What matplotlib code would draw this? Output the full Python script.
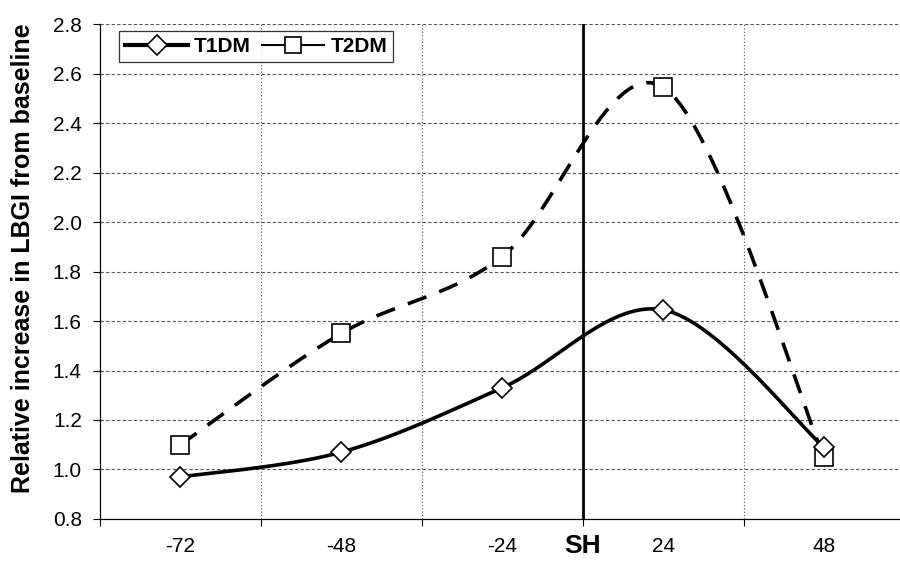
import numpy as np
import matplotlib
matplotlib.use("Agg")
from matplotlib import pyplot as plt
from matplotlib.lines import Line2D

plt.rcParams['font.family'] = ['Liberation Sans', 'DejaVu Sans']

# hours relative to severe hypoglycaemia (SH)
hours = ['-72', '-48', '-24', '24', '48']
t1dm = [0.97, 1.07, 1.33, 1.645, 1.09]
t2dm = [1.10, 1.55, 1.86, 2.545, 1.05]
y_ticks = [0.8, 1.0, 1.2, 1.4, 1.6, 1.8, 2.0, 2.2, 2.4, 2.6, 2.8]


def smooth(xs, ys, n=40):
    # excel-like smoothed line: bezier with catmull-rom control points
    pts = np.column_stack([xs, ys]).astype(float)
    out = []
    for i in range(len(pts) - 1):
        p0 = pts[i - 1] if i > 0 else pts[i]
        p1 = pts[i]
        p2 = pts[i + 1]
        p3 = pts[i + 2] if i + 2 < len(pts) else pts[i + 1]
        c1 = p1 + (p2 - p0) / 6.0
        c2 = p2 - (p3 - p1) / 6.0
        t = np.linspace(0, 1, n)[:, None]
        seg = ((1 - t) ** 3 * p1 + 3 * (1 - t) ** 2 * t * c1
               + 3 * (1 - t) * t ** 2 * c2 + t ** 3 * p2)
        out.append(seg if i == 0 else seg[1:])
    out = np.vstack(out)
    return out[:, 0], out[:, 1]


x = np.arange(len(hours))

fig = plt.figure(figsize=(9, 5.64), dpi=100)
ax = fig.add_axes([0.111, 0.0798, 0.894, 0.8776])

# grid
for yv in y_ticks[1:]:
    ax.axhline(yv, color='#555555', lw=0.8, ls=(0, (3, 2)), zorder=0)
for xv in np.arange(0.5, len(hours) - 0.5, 1.0):
    if xv != 2.5:
        ax.axvline(xv, color='#555555', lw=0.8, ls=(0, (1, 2)), zorder=0)

# SH line
ax.axvline(2.5, color='black', lw=2.0, zorder=1)

sx, sy = smooth(x, t2dm)
ax.plot(sx, sy, color='black', lw=2.6, ls=(0, (5.5, 3.8)), zorder=2)
ax.plot(x, t2dm, ls='none', marker='s', ms=13.5, mfc='white', mec='black',
        mew=1.2, zorder=3)

sx, sy = smooth(x, t1dm)
ax.plot(sx, sy, color='black', lw=2.6, zorder=2)
ax.plot(x, t1dm, ls='none', marker='D', ms=10.5, mfc='white', mec='black',
        mew=1.2, zorder=4)

ax.set_xlim(-0.5, len(hours) - 0.5)
ax.set_ylim(0.8, 2.8)
ax.set_yticks(y_ticks)
ax.set_yticklabels(['%.1f' % v for v in y_ticks], fontsize=15)
ax.set_xticks(np.arange(-0.5, len(hours), 1.0))
ax.set_xticklabels([])
ax.set_xticks(x, minor=True)
ax.set_xticklabels(hours, minor=True, fontsize=15)
ax.tick_params(axis='x', which='minor', length=0, pad=13)
ax.tick_params(axis='x', which='major', length=5, direction='out', width=0.8)
ax.tick_params(axis='y', length=5, direction='out', width=0.8, pad=8)

for s in ['top', 'right']:
    ax.spines[s].set_visible(False)
ax.spines['left'].set_linewidth(0.9)
ax.spines['bottom'].set_linewidth(0.9)

ax.text(2.5, -0.0545, 'SH', transform=ax.get_xaxis_transform(), ha='center',
        va='center', fontsize=19, fontweight='bold')

fig.text(23 / 900, 1 - 258 / 564, 'Relative increase in LBGI from baseline',
         rotation=90, ha='center', va='center', fontsize=18,
         fontweight='bold')

handles = [
    Line2D([0], [0], color='black', lw=3, marker='D', ms=10, mfc='white',
           mec='black', mew=1.2),
    Line2D([0], [0], color='black', lw=1.5, marker='s', ms=11, mfc='white',
           mec='black', mew=1.2),
]
leg = ax.legend(handles, ['T1DM', 'T2DM'], loc='upper left', ncol=2,
                bbox_to_anchor=(0.024, 0.986), frameon=True, fancybox=False,
                edgecolor='black', prop={'weight': 'bold', 'size': 15},
                handlelength=3.0, columnspacing=0.5, handletextpad=0.3,
                borderpad=0.3, borderaxespad=0)
leg.get_frame().set_linewidth(0.9)

fig.savefig('out.png', dpi=100)
